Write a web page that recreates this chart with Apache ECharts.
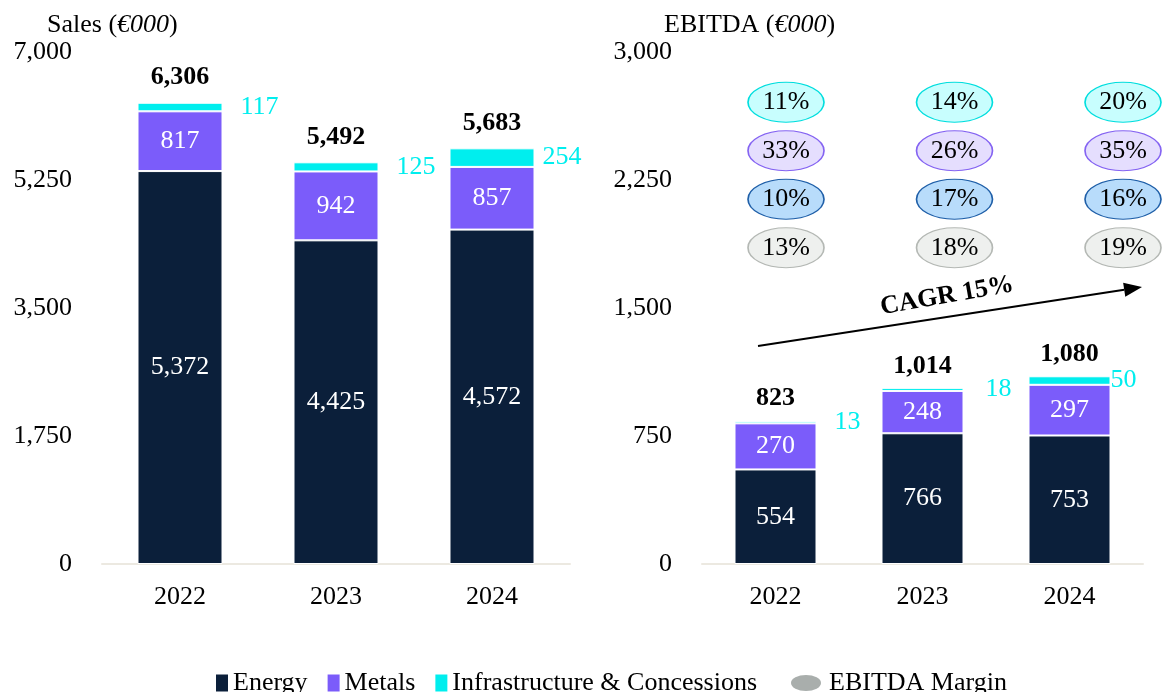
<!DOCTYPE html>
<html>
<head>
<meta charset="utf-8">
<title>Sales and EBITDA by division</title>
<script src="https://cdn.jsdelivr.net/npm/echarts@6/dist/echarts.min.js"></script>
<style>
  html, body { margin: 0; padding: 0; background: #fff; }
  #chart { width: 1162px; height: 692px; }
</style>
</head>
<body>
<div id="chart"></div>
<script>
// data
const years = ['2022', '2023', '2024'];

const salesEnergy = [5372, 4425, 4572];
const salesMetals = [817, 942, 857];
const salesInfra = [117, 125, 254];
const salesTotal = [6306, 5492, 5683];

const ebitdaEnergy = [554, 766, 753];
const ebitdaMetals = [270, 248, 297];
const ebitdaInfra = [13, 18, 50];
const ebitdaTotal = [823, 1014, 1080];

// EBITDA margin (%) per division, bottom row first
const marginRows = ['Group', 'Energy', 'Metals', 'Infrastructure'];
const marginGroup = [13, 18, 19];
const marginEnergy = [10, 17, 16];
const marginMetals = [33, 26, 35];
const marginInfra = [11, 14, 20];

const salesAxis = { max: 7000, interval: 1750 };
const ebitdaAxis = { max: 3000, interval: 750 };

// colours / styles
const FONT = "'Liberation Serif', 'Times New Roman', serif";
const FS = 26;
const C_ENERGY = '#0b1f3a';
const C_METALS = '#7b5cfa';
const C_INFRA = '#00eeee';
const infraGapSales = [18, 18, 8];
const infraGapEbitda = [18, 22, 0];

const fmt = v => Number(v).toLocaleString('en-US');

const chart = echarts.init(document.getElementById('chart'));

function stackSeries(idx, energy, metals, infra, total, gaps, barWidth) {
  const base = {
    type: 'bar', stack: 'tot' + idx, xAxisIndex: idx, yAxisIndex: idx,
    barWidth: barWidth, silent: true,
    itemStyle: { borderColor: '#fff', borderWidth: 1 }
  };
  const inside = { show: true, position: 'inside', color: '#fff', fontFamily: FONT, fontSize: FS, formatter: p => fmt(p.value) };
  return [
    Object.assign({}, base, { name: 'Energy', data: energy, itemStyle: Object.assign({}, base.itemStyle, { color: C_ENERGY }), label: inside }),
    Object.assign({}, base, { name: 'Metals', data: metals, itemStyle: Object.assign({}, base.itemStyle, { color: C_METALS }), label: inside }),
    Object.assign({}, base, {
      name: 'Infrastructure & Concessions',
      data: infra.map((v, i) => ({ value: v, label: { distance: gaps[i] } })),
      itemStyle: Object.assign({}, base.itemStyle, { color: C_INFRA }),
      label: { show: true, position: 'right', color: C_INFRA, fontFamily: FONT, fontSize: FS }
    }),
    {
      type: 'bar', name: 'total' + idx, xAxisIndex: idx, yAxisIndex: idx,
      barWidth: barWidth, barGap: '-100%', silent: true, data: total, z: 1,
      itemStyle: { color: 'rgba(0,0,0,0)' },
      label: { show: true, position: 'top', distance: 12, color: '#000', fontFamily: FONT, fontSize: FS, fontWeight: 'bold', formatter: p => fmt(p.value) }
    }
  ];
}

function marginSeries(name, row, values, fill, stroke) {
  return {
    type: 'scatter', name: name, xAxisIndex: 2, yAxisIndex: 2, silent: true,
    symbol: 'circle', symbolSize: [76, 40],
    data: values.map((v, i) => [years[i], row, v]),
    itemStyle: { color: fill, borderColor: stroke, borderWidth: 1.2, opacity: 1 },
    label: { show: true, position: 'inside', color: '#000', fontFamily: FONT, fontSize: FS, formatter: p => p.value[2] + '%' }
  };
}

const xCat = idx => ({
  type: 'category', gridIndex: idx, data: years,
  axisTick: { show: false },
  axisLine: { lineStyle: { color: '#ece9e1', width: 2 } },
  axisLabel: { color: '#000', fontFamily: FONT, fontSize: FS, margin: 20 }
});
const yVal = (idx, ax) => ({
  type: 'value', gridIndex: idx, min: 0, max: ax.max, interval: ax.interval,
  splitLine: { show: false }, axisLine: { show: false }, axisTick: { show: false },
  axisLabel: { color: '#000', fontFamily: FONT, fontSize: FS, margin: 30, formatter: v => fmt(v) }
});

const titleRich = {
  n: { fontFamily: FONT, fontSize: FS, fontWeight: 'normal', color: '#000' },
  i: { fontFamily: FONT, fontSize: FS, fontWeight: 'normal', fontStyle: 'italic', color: '#000' }
};

// CAGR arrow (annotation)
const a0 = [758, 346], a1 = [1142, 287];
const len = Math.hypot(a1[0] - a0[0], a1[1] - a0[1]);
const d = [(a1[0] - a0[0]) / len, (a1[1] - a0[1]) / len];
const nrm = [-d[1], d[0]];
const hb = [a1[0] - 18 * d[0], a1[1] - 18 * d[1]];

const legendText = { color: '#000', fontFamily: FONT, fontSize: FS };

chart.setOption({
  animation: false,
  textStyle: { fontFamily: FONT },
  title: [
    { text: '{n|Sales (}{i|€000}{n|)}', left: 42, top: 7, textStyle: { fontWeight: 'normal', rich: titleRich } },
    { text: '{n|EBITDA (}{i|€000}{n|)}', left: 659, top: 7, textStyle: { fontWeight: 'normal', rich: titleRich } }
  ],
  legend: [
    {
      left: 211, top: 665, itemWidth: 12, itemHeight: 17, itemGap: 20, itemStyle: { borderWidth: 0 },
      textStyle: legendText,
      data: [
        { name: 'Energy', icon: 'rect', itemStyle: { color: C_ENERGY } },
        { name: 'Metals', icon: 'rect', itemStyle: { color: C_METALS } },
        { name: 'Infrastructure & Concessions', icon: 'rect', itemStyle: { color: C_INFRA } }
      ]
    },
    {
      left: 786, top: 665, itemWidth: 30, itemHeight: 16, itemStyle: { borderWidth: 0 },
      textStyle: Object.assign({ padding: [0, 0, 0, 3] }, legendText),
      data: [{ name: 'EBITDA Margin', icon: 'path://M0,8a15,8 0 1,0 30,0a15,8 0 1,0 -30,0z', itemStyle: { color: '#a9aeac' } }]
    }
  ],
  grid: [
    { left: 102, top: 52, width: 468, bottom: 128 },
    { left: 702, top: 52, width: 441, bottom: 128 },
    { left: 786, top: 78, width: 337, height: 194 }
  ],
  xAxis: [
    xCat(0), xCat(1),
    { type: 'category', gridIndex: 2, data: years, boundaryGap: false, show: false }
  ],
  yAxis: [
    yVal(0, salesAxis), yVal(1, ebitdaAxis),
    { type: 'category', gridIndex: 2, data: marginRows, show: false }
  ],
  series: [].concat(
    stackSeries(0, salesEnergy, salesMetals, salesInfra, salesTotal, infraGapSales, 85),
    stackSeries(1, ebitdaEnergy, ebitdaMetals, ebitdaInfra, ebitdaTotal, infraGapEbitda, 82),
    [
      marginSeries('EBITDA Margin', 'Group', marginGroup, '#eef0ee', '#b4b8b4'),
      marginSeries('Energy margin', 'Energy', marginEnergy, '#b8dcfb', '#1f5fa8'),
      marginSeries('Metals margin', 'Metals', marginMetals, '#e5defe', '#8463f2'),
      marginSeries('Infra margin', 'Infrastructure', marginInfra, '#c8fefe', '#00dede')
    ]
  ),
  graphic: [
    { type: 'line', silent: true, shape: { x1: a0[0], y1: a0[1], x2: hb[0], y2: hb[1] }, style: { stroke: '#000', lineWidth: 2 } },
    { type: 'polygon', silent: true,
      shape: { points: [a1, [hb[0] + 7 * nrm[0], hb[1] + 7 * nrm[1]], [hb[0] - 7 * nrm[0], hb[1] - 7 * nrm[1]]] },
      style: { fill: '#000' } },
    { type: 'text', silent: true, x: 947, y: 296, rotation: 10 * Math.PI / 180,
      style: { text: 'CAGR 15%', fill: '#000', font: "bold 26px 'Liberation Serif', serif", textAlign: 'center', textVerticalAlign: 'middle' } }
  ]
});
</script>
</body>
</html>
